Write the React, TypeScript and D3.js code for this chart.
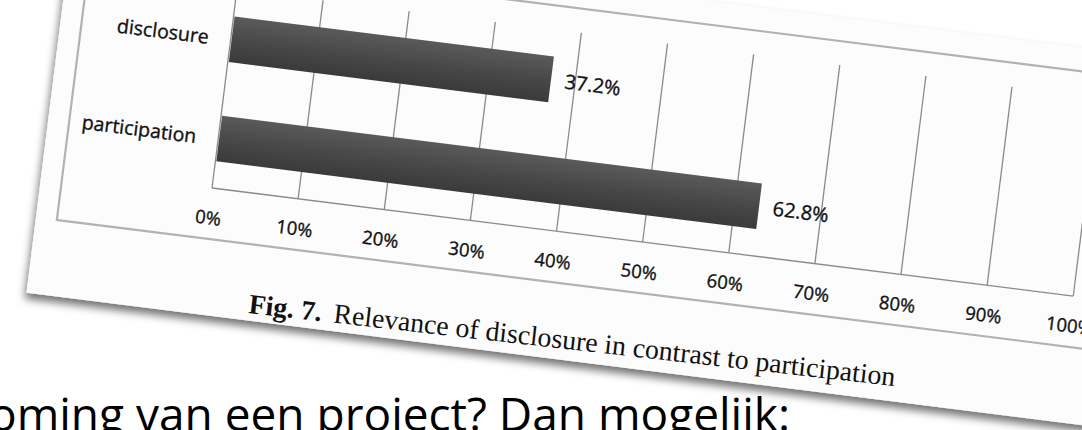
import { useEffect, useRef } from "react";
import * as d3 from "d3";

const categories = ["disclosure", "participation"];
const values = [0.372, 0.628];
const valueLabels = ["37.2%", "62.8%"];
const tickValues = [0, 0.1, 0.2, 0.3, 0.4, 0.5, 0.6, 0.7, 0.8, 0.9, 1];
const tickLabels = ["0%", "10%", "20%", "30%", "40%", "50%", "60%", "70%", "80%", "90%", "100%"];
const captionBold = "Fig. 7.";
const captionText = "Relevance of disclosure in contrast to participation";
const slideText = "oming van een project? Dan mogelijk:";

export default function App() {
  const svgRef = useRef<SVGSVGElement>(null);

  useEffect(() => {
    if (!svgRef.current) return;
    const svg = d3.select(svgRef.current);
    svg.selectAll("*").remove();

    const width = 1082;
    const height = 430;
    svg.attr("width", width).attr("height", height).style("display", "block");

    const defs = svg.append("defs");
    const grad = defs
      .append("linearGradient")
      .attr("id", "barGrad")
      .attr("x1", 0)
      .attr("y1", 0)
      .attr("x2", 0)
      .attr("y2", 1);
    grad.append("stop").attr("offset", "0%").attr("stop-color", "#5a5a5a");
    grad.append("stop").attr("offset", "55%").attr("stop-color", "#474747");
    grad.append("stop").attr("offset", "100%").attr("stop-color", "#3a3a3a");

    const shadow = defs
      .append("filter")
      .attr("id", "paperShadow")
      .attr("x", "-10%")
      .attr("y", "-10%")
      .attr("width", "120%")
      .attr("height", "120%");
    shadow
      .append("feDropShadow")
      .attr("dx", -1)
      .attr("dy", 6)
      .attr("stdDeviation", 4)
      .attr("flood-color", "#000")
      .attr("flood-opacity", 0.55);

    svg.append("rect").attr("width", width).attr("height", height).attr("fill", "#ffffff");

    // the printed page, tilted
    const page = svg.append("g").attr("transform", "translate(212,188) rotate(7.15)");

    page
      .append("rect")
      .attr("x", -171)
      .attr("y", -247)
      .attr("width", 1400)
      .attr("height", 374)
      .attr("fill", "#fcfcfc")
      .attr("filter", "url(#paperShadow)");

    // chart frame
    page
      .append("rect")
      .attr("x", -150)
      .attr("y", -224)
      .attr("width", 1080)
      .attr("height", 275)
      .attr("fill", "none")
      .attr("stroke", "#b2b2b2")
      .attr("stroke-width", 2.2);

    const innerWidth = 868;
    const innerHeight = 200;

    const x = d3.scaleLinear().domain([0, 1]).range([0, innerWidth]);
    const y = d3
      .scaleBand()
      .domain(categories)
      .range([-innerHeight, 0])
      .paddingInner(0.54)
      .paddingOuter(0.27);

    // grid lines
    page
      .selectAll(".grid")
      .data(tickValues)
      .enter()
      .append("line")
      .attr("x1", (d) => x(d))
      .attr("x2", (d) => x(d))
      .attr("y1", -innerHeight)
      .attr("y2", 0)
      .attr("stroke", "#8a8a8a")
      .attr("stroke-width", 1.3);

    page
      .append("line")
      .attr("x1", 0)
      .attr("x2", innerWidth)
      .attr("y1", 0)
      .attr("y2", 0)
      .attr("stroke", "#8a8a8a")
      .attr("stroke-width", 1.3);

    // bars
    page
      .selectAll(".bar")
      .data(categories)
      .enter()
      .append("rect")
      .attr("x", x(0) + 1)
      .attr("y", (d) => y(d)!)
      .attr("width", (d, i) => x(values[i]) - x(0) - 1)
      .attr("height", y.bandwidth())
      .attr("fill", "url(#barGrad)");

    const labelFont = "'Open Sans', sans-serif";
    const labelColor = "#111";

    // value labels
    page
      .selectAll(".val")
      .data(categories)
      .enter()
      .append("text")
      .attr("x", (d, i) => x(values[i]) + 14)
      .attr("y", (d) => y(d)! + y.bandwidth() / 2)
      .attr("dominant-baseline", "central")
      .attr("font-family", labelFont)
      .attr("font-size", 20)
      .attr("fill", labelColor)
      .attr("stroke", labelColor)
      .attr("stroke-width", 0.35)
      .text((d, i) => valueLabels[i]);

    // category labels
    page
      .selectAll(".cat")
      .data(categories)
      .enter()
      .append("text")
      .attr("x", -22)
      .attr("y", (d) => y(d)! + y.bandwidth() / 2)
      .attr("text-anchor", "end")
      .attr("dominant-baseline", "central")
      .attr("font-family", labelFont)
      .attr("font-size", 19.5)
      .attr("fill", labelColor)
      .attr("stroke", labelColor)
      .attr("stroke-width", 0.35)
      .text((d) => d);

    // tick labels
    page
      .selectAll(".tick")
      .data(tickValues)
      .enter()
      .append("text")
      .attr("x", (d) => x(d))
      .attr("y", 29)
      .attr("text-anchor", "middle")
      .attr("dominant-baseline", "central")
      .attr("font-family", labelFont)
      .attr("font-size", 18.5)
      .attr("fill", labelColor)
      .attr("stroke", labelColor)
      .attr("stroke-width", 0.35)
      .text((d, i) => tickLabels[i]);

    // caption under the figure
    const cap = svg
      .append("text")
      .attr("transform", "translate(248,313) rotate(6.45)")
      .attr("font-family", "'Liberation Serif', 'Times New Roman', serif")
      .attr("font-size", 27.8)
      .attr("fill", "#111");
    cap.append("tspan").attr("font-weight", "bold").text(captionBold);
    cap.append("tspan").attr("dx", 12).text(captionText);

    // slide text below
    svg
      .append("text")
      .attr("x", -11)
      .attr("y", 431)
      .attr("font-family", "'Open Sans', sans-serif")
      .attr("font-size", 46)
      .attr("fill", "#000")
      .text(slideText);
  }, []);

  return (
    <>
      <style>{"body{margin:0;overflow:hidden}"}</style>
      <svg ref={svgRef} />
    </>
  );
}
